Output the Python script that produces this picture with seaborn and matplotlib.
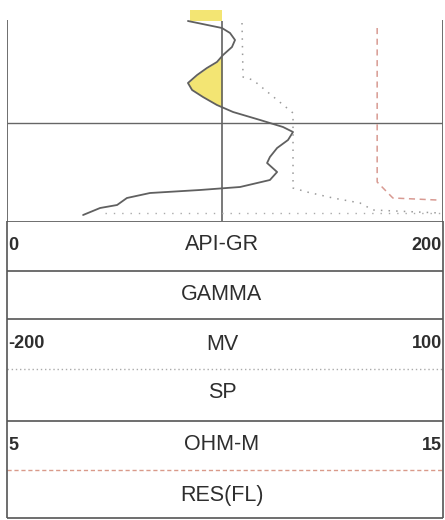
import matplotlib
matplotlib.use("Agg")
import matplotlib.pyplot as plt
import seaborn as sns
import numpy as np

# Log curve readings (depth units top -> bottom)
gr_depth = [21, 28, 33, 40, 47, 55, 62, 68, 75, 83, 90, 97, 105, 112, 120, 127,
            132, 140, 148, 157, 163, 172, 180, 187, 190, 193, 198, 205, 208, 215]
gr_api = [83.0, 98.6, 102.3, 104.6, 103.2, 99.1, 96.3, 91.7, 87.2, 83.0, 84.9, 89.9,
          96.3, 103.7, 116.1, 126.6, 131.2, 128.9, 123.9, 120.6, 119.3, 123.9, 120.6,
          106.9, 88.5, 65.6, 55.0, 50.5, 42.7, 34.9]
gr_center = 98.6

sp_depth = [23, 77, 80, 113, 188, 192, 198, 203, 210, 213]
sp_mv = [-38.3, -37.6, -30.7, -3.2, -3.2, 6.4, 24.3, 42.9, 51.8, 97.9]

res_depth = [28, 182, 190, 198, 200]
res_ohm = [13.49, 13.49, 13.67, 13.85, 14.86]

# Header rows: (left scale, mnemonic, right scale)
scale_rows = [("0", "API-GR", "200"), ("-200", "MV", "100"), ("5", "OHM-M", "15")]
curve_names = ["GAMMA", "SP", "RES(FL)"]

sns.set_style("white")
plt.rcParams['font.family'] = ['Liberation Sans', 'DejaVu Sans']

W, H = 445, 520
fig = plt.figure(figsize=(W / 100, H / 100), dpi=100)

line_c = "#555555"
yellow = "#f1e15a"

# -----------------------------------
# Log track
# -----------------------------------
top_px, bot_px = 8, 221
ax = fig.add_axes([7 / W, 1 - bot_px / H, (443 - 7) / W, (bot_px - top_px) / H])
ax.set_xlim(0, 200)
ax.set_ylim(bot_px, top_px)
ax.axis("off")

# shading where GR is below the center line
d = np.array(gr_depth, dtype=float)
g = np.array(gr_api, dtype=float)
ax.fill_betweenx(d, g, gr_center, where=(g < gr_center) & (d > 45) & (d < 108),
                 color=yellow, alpha=0.85, lw=0, interpolate=True)
ax.fill_betweenx([10, 21], [84, 84], [gr_center, gr_center], color=yellow, alpha=0.85, lw=0)

ax.vlines([0, 200], 20, bot_px, color=line_c, lw=1.2)
ax.vlines(gr_center, 21, bot_px, color=line_c, lw=1.1)
ax.hlines(123, 0, 200, color="#666666", lw=1)
ax.hlines(213, 45, 200, color="#aaaaaa", lw=1, linestyle=(0, (1, 5)))

sns.lineplot(x=gr_api, y=gr_depth, sort=False, estimator=None, orient="y",
             color="#606060", lw=1.3, ax=ax)

ax_sp = ax.twiny()
ax_sp.set_xlim(-200, 100)
ax_sp.set_ylim(bot_px, top_px)
ax_sp.axis("off")
sns.lineplot(x=sp_mv, y=sp_depth, sort=False, estimator=None, orient="y",
             color="#9a9a9a", lw=1.1, linestyle=(0, (1, 4)), ax=ax_sp)

ax_res = ax.twiny()
ax_res.set_xlim(5, 15)
ax_res.set_ylim(bot_px, top_px)
ax_res.axis("off")
sns.lineplot(x=res_ohm, y=res_depth, sort=False, estimator=None, orient="y",
             color="#d89a92", lw=1.1, linestyle=(0, (4, 3)), ax=ax_res)

# -----------------------------------
# Header
# -----------------------------------
hx = fig.add_axes([0, 0, 1, (H - bot_px) / H])
hx.set_xlim(0, W)
hx.set_ylim(H, bot_px)
hx.axis("off")

hx.hlines([221, 271, 319, 421, 518], 7, 443, color=line_c, lw=1.2)
hx.hlines(369, 7, 443, color="#aaaaaa", lw=1, linestyle=(0, (1, 2)))
hx.hlines(470, 7, 443, color="#d99a8a", lw=1, linestyle=(0, (3, 2)))
hx.vlines([7, 443], 221, 518, color=line_c, lw=1.2)

txt_c = "#2e2e2e"
for (lft, mid, rgt), yy in zip(scale_rows, [245, 344, 445]):
    hx.text(8, yy, lft, ha="left", va="center", fontsize=13, fontweight="bold", color=txt_c)
    hx.text(222, yy, mid, ha="center", va="center", fontsize=15.5, color=txt_c)
    hx.text(442, yy, rgt, ha="right", va="center", fontsize=13, fontweight="bold", color=txt_c)
for name, yy in zip(curve_names, [295, 393, 495]):
    hx.text(222, yy, name, ha="center", va="center", fontsize=15.5, color=txt_c)

fig.savefig("out.png", dpi=100)
